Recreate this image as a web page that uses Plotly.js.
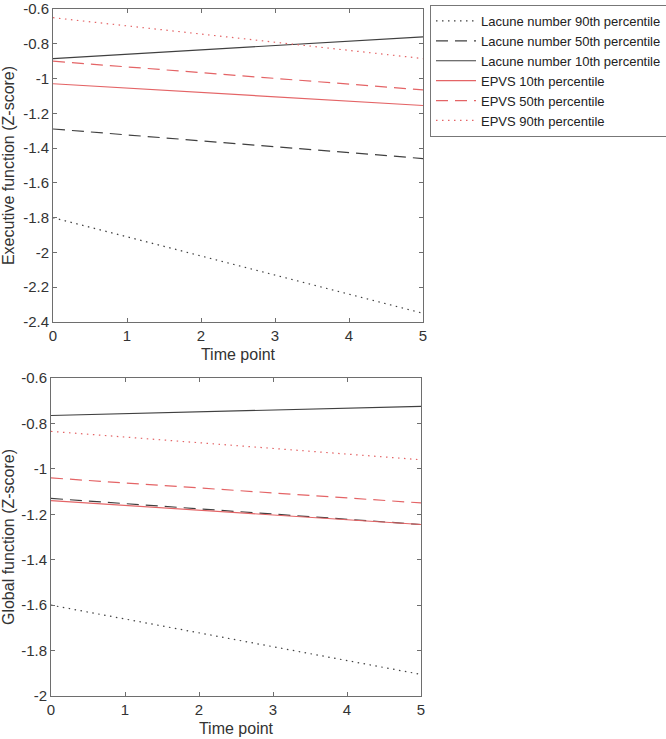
<!DOCTYPE html>
<html><head><meta charset="utf-8">
<script src="https://cdn.plot.ly/plotly-3.0.1.min.js"></script>
<style>html,body{margin:0;padding:0;background:#fff}</style>
</head><body>
<div id="chart" style="width:666px;height:739px"></div>
<script>
const timePoints = [0, 5];
const xTicks = [0, 1, 2, 3, 4, 5];
const yTicksExec = [-2.4, -2.2, -2, -1.8, -1.6, -1.4, -1.2, -1, -0.8, -0.6];
const yTicksGlob = [-2, -1.8, -1.6, -1.4, -1.2, -1, -0.8, -0.6];
const seriesNames = ["Lacune number 90th percentile","Lacune number 50th percentile","Lacune number 10th percentile","EPVS 10th percentile","EPVS 50th percentile","EPVS 90th percentile"];
const execLacune90 = [-1.80, -2.35];
const execLacune50 = [-1.29, -1.46];
const execLacune10 = [-0.885, -0.76];
const execEPVS10 = [-1.03, -1.155];
const execEPVS50 = [-0.90, -1.065];
const execEPVS90 = [-0.65, -0.885];
const globLacune90 = [-1.60, -1.905];
const globLacune50 = [-1.13, -1.245];
const globLacune10 = [-0.765, -0.725];
const globEPVS10 = [-1.14, -1.245];
const globEPVS50 = [-1.04, -1.15];
const globEPVS90 = [-0.835, -0.96];

const black = '#404040', red = '#e46466';
const styles = [
  {color: black, dash: '1.5px,4.5px'},
  {color: black, dash: '12px,7px'},
  {color: black, dash: 'solid'},
  {color: red, dash: 'solid'},
  {color: red, dash: '12px,7px'},
  {color: red, dash: '1.5px,4.5px'}
];
const execData = [execLacune90, execLacune50, execLacune10, execEPVS10, execEPVS50, execEPVS90];
const globData = [globLacune90, globLacune50, globLacune10, globEPVS10, globEPVS50, globEPVS90];
const traces = [];
execData.forEach((y, i) => traces.push({x: timePoints, y: y, type: 'scatter', mode: 'lines', name: seriesNames[i],
  line: {color: styles[i].color, dash: styles[i].dash, width: 1.2}, xaxis: 'x', yaxis: 'y', showlegend: true}));
globData.forEach((y, i) => traces.push({x: timePoints, y: y, type: 'scatter', mode: 'lines', name: seriesNames[i],
  line: {color: styles[i].color, dash: styles[i].dash, width: 1.2}, xaxis: 'x2', yaxis: 'y2', showlegend: false}));

const fmt = v => String(v);
const W = 666, H = 739;
const fnt = {family: 'Liberation Sans, Arial, sans-serif', size: 15, color: '#333'};
const tfnt = {family: 'Liberation Sans, Arial, sans-serif', size: 16, color: '#333'};
const axBase = {showline: true, linecolor: '#6e6e6e', linewidth: 1, mirror: 'ticks', ticks: 'inside', ticklen: 4,
  tickcolor: '#6e6e6e', showgrid: false, zeroline: false, tickfont: fnt, automargin: false, ticklabeloverflow: 'allow'};
const layout = {
  width: W, height: H, margin: {l: 0, r: 0, t: 0, b: 0, autoexpand: false}, paper_bgcolor: '#fff', plot_bgcolor: '#fff',
  font: fnt,
  xaxis: Object.assign({}, axBase, {domain: [53/W, 423/W], range: [0, 5], tickvals: xTicks, ticktext: xTicks.map(fmt), anchor: 'y',
    title: {text: 'Time point', font: tfnt, standoff: 5}}),
  yaxis: Object.assign({}, axBase, {domain: [1 - 322/H, 1 - 9/H], range: [-2.4, -0.6], tickvals: yTicksExec, ticktext: yTicksExec.map(fmt), anchor: 'x',
    title: {text: 'Executive function (Z-score)', font: tfnt, standoff: 5}}),
  xaxis2: Object.assign({}, axBase, {domain: [51/W, 421/W], range: [0, 5], tickvals: xTicks, ticktext: xTicks.map(fmt), anchor: 'y2',
    title: {text: 'Time point', font: tfnt, standoff: 5}}),
  yaxis2: Object.assign({}, axBase, {domain: [1 - 696/H, 1 - 378/H], range: [-2, -0.6], tickvals: yTicksGlob, ticktext: yTicksGlob.map(fmt), anchor: 'x2',
    title: {text: 'Global function (Z-score)', font: tfnt, standoff: 5}}),
  legend: {x: 430/W, y: 1 - 5/H, xanchor: 'left', yanchor: 'top', bordercolor: '#777', borderwidth: 1,
    bgcolor: '#fff', font: {family: 'Liberation Sans, Arial, sans-serif', size: 13, color: '#222'}, tracegroupgap: 0, itemwidth: 40},
  showlegend: true
};
Plotly.newPlot('chart', traces, layout, {displayModeBar: false, staticPlot: true});
</script>
</body></html>
